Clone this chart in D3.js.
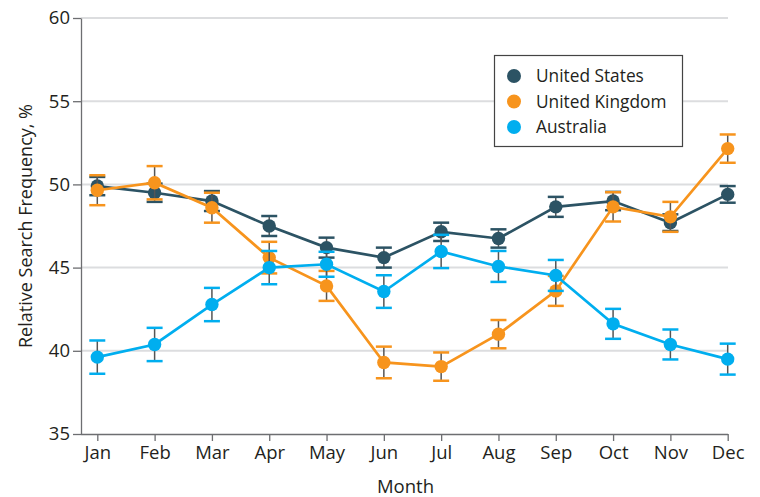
<!DOCTYPE html>
<html lang="en">
<head>
<meta charset="utf-8">
<script src="https://d3js.org/d3.v7.min.js"></script>
<style>
  body { margin: 0; background: #fff; }
  text { font-family: "Open Sans", sans-serif; fill: #231f20; }
  .axis text { font-size: 18.5px; }
  .axis path, .axis line { stroke: #6d6e71; stroke-width: 1.3px; }
  .grid line { stroke: #dcdddf; stroke-width: 2px; }
</style>
</head>
<body>
<svg width="760" height="497"></svg>
<script>

var months = ["Jan", "Feb", "Mar", "Apr", "May", "Jun", "Jul", "Aug", "Sep", "Oct", "Nov", "Dec"];
var yTicks = [35, 40, 45, 50, 55, 60];

// mean values and half-width of error bars, per month
var usValues = [49.9, 49.5, 49.0, 47.5, 46.2, 45.6, 47.15, 46.75, 48.65, 49.0, 47.7, 49.4];
var usErr    = [0.55, 0.55, 0.6, 0.6, 0.6, 0.6, 0.55, 0.55, 0.6, 0.55, 0.5, 0.5];
var ukValues = [49.65, 50.1, 48.6, 45.6, 43.9, 39.3, 39.05, 41.0, 43.6, 48.65, 48.05, 52.15];
var ukErr    = [0.9, 1.0, 0.9, 0.95, 0.9, 0.95, 0.85, 0.85, 0.9, 0.88, 0.9, 0.85];
var auValues = [39.62, 40.38, 42.78, 45.0, 45.2, 43.56, 45.97, 45.07, 44.53, 41.62, 40.38, 39.5];
var auErr    = [1.0, 1.0, 1.0, 1.0, 0.75, 0.98, 1.0, 0.93, 0.93, 0.9, 0.9, 0.93];

var seriesNames = ["United States", "United Kingdom", "Australia"];
var seriesColors = ["#2c5364", "#f7941d", "#00aeef"];

var series = [
  { name: seriesNames[0], color: seriesColors[0], values: usValues, err: usErr },
  { name: seriesNames[1], color: seriesColors[1], values: ukValues, err: ukErr },
  { name: seriesNames[2], color: seriesColors[2], values: auValues, err: auErr }
];

var svg = d3.select("svg"),
    plotLeft = 81, plotRight = 728, plotTop = 18, plotBottom = 434;

var x = d3.scalePoint().domain(months).range([97.3, 727.7]);
var y = d3.scaleLinear().domain([35, 60]).range([plotBottom, plotTop]);

// grid lines
svg.append("g").attr("class", "grid")
  .selectAll("line").data(yTicks.slice(1)).enter().append("line")
    .attr("x1", plotLeft).attr("x2", plotRight)
    .attr("y1", function(d) { return y(d); })
    .attr("y2", function(d) { return y(d); });

// axes
svg.append("g").attr("class", "axis")
  .attr("transform", "translate(" + plotLeft + ",0)")
  .call(d3.axisLeft(y).tickValues(yTicks).tickSize(8).tickPadding(3).tickSizeOuter(0));

var xAxis = svg.append("g").attr("class", "axis")
  .attr("transform", "translate(0," + plotBottom + ")")
  .call(d3.axisBottom(x).tickSize(7).tickPadding(5).tickSizeOuter(0));
xAxis.select(".domain").attr("d", "M" + plotLeft + ",0.5H" + plotRight);

// axis titles
svg.append("text")
  .attr("transform", "translate(32," + ((plotTop + plotBottom) / 2) + ") rotate(-90)")
  .attr("text-anchor", "middle")
  .style("font-size", "18px")
  .text("Relative Search Frequency, %");

svg.append("text")
  .attr("x", (plotLeft + plotRight) / 2 + 1).attr("y", 493)
  .attr("text-anchor", "middle")
  .style("font-size", "18.5px")
  .text("Month");

var line = d3.line()
  .x(function(d, i) { return x(months[i]); })
  .y(function(d) { return y(d); });

var groups = svg.selectAll(".series").data(series).enter().append("g")
  .attr("class", "series");

// error bars
groups.each(function(s) {
  var g = d3.select(this);
  var bars = g.selectAll(".err").data(s.values).enter().append("g").attr("class", "err");
  bars.append("line")
    .attr("x1", function(d, i) { return x(months[i]); })
    .attr("x2", function(d, i) { return x(months[i]); })
    .attr("y1", function(d, i) { return y(d + s.err[i]); })
    .attr("y2", function(d, i) { return y(d - s.err[i]); })
    .attr("stroke", "#555").attr("stroke-width", 1.5);
  [1, -1].forEach(function(sign) {
    bars.append("line")
      .attr("x1", function(d, i) { return x(months[i]) - 8; })
      .attr("x2", function(d, i) { return x(months[i]) + 8; })
      .attr("y1", function(d, i) { return y(d + sign * s.err[i]); })
      .attr("y2", function(d, i) { return y(d + sign * s.err[i]); })
      .attr("stroke", s.color).attr("stroke-width", 2.5);
  });
});

groups.append("path")
  .attr("d", function(s) { return line(s.values); })
  .attr("fill", "none")
  .attr("stroke", function(s) { return s.color; })
  .attr("stroke-width", 2.7);

groups.each(function(s) {
  d3.select(this).selectAll("circle").data(s.values).enter().append("circle")
    .attr("cx", function(d, i) { return x(months[i]); })
    .attr("cy", function(d) { return y(d); })
    .attr("r", 6.7)
    .attr("fill", s.color);
});

// legend
var legend = svg.append("g").attr("transform", "translate(494,55)");
legend.append("rect")
  .attr("x", 0.5).attr("y", 0.5).attr("width", 188).attr("height", 91)
  .attr("fill", "#fff").attr("stroke", "#444").attr("stroke-width", 1.2);
var items = legend.selectAll(".item").data(series).enter().append("g")
  .attr("transform", function(d, i) { return "translate(0," + (21 + i * 25.5) + ")"; });
items.append("circle").attr("cx", 20).attr("cy", 0).attr("r", 7)
  .attr("fill", function(d) { return d.color; });
items.append("text").attr("x", 42).attr("y", 6)
  .style("font-size", "17.3px")
  .text(function(d) { return d.name; });

</script>
</body>
</html>
